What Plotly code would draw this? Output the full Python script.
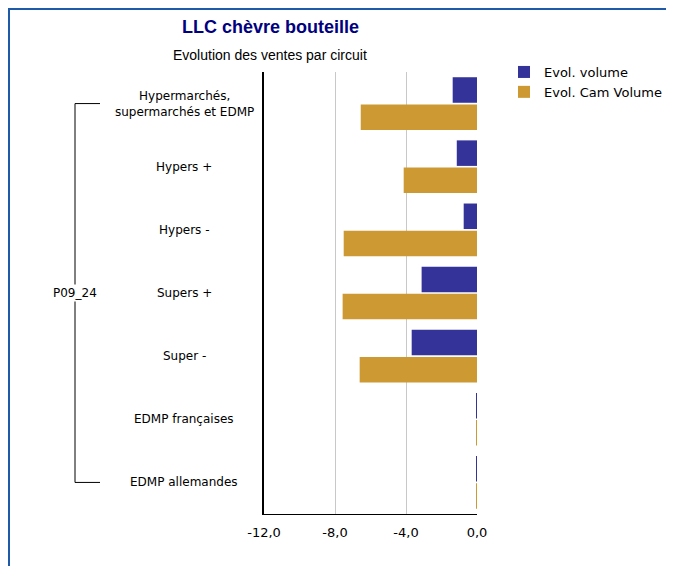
import plotly.graph_objects as go

categories = ["Hypermarchés,<br>supermarchés et EDMP", "Hypers +", "Hypers -", "Supers +",
              "Super -", "EDMP françaises", "EDMP allemandes"]
evol_volume = [-1.37, -1.14, -0.75, -3.12, -3.68, -0.03, -0.03]
evol_cam_volume = [-6.55, -4.13, -7.51, -7.57, -6.61, -0.03, -0.03]
group_label = "P09_24"
x_ticks = [-12, -8, -4, 0]
x_tick_text = [f"{v:.1f}".replace(".", ",") for v in x_ticks]

FONT = "DejaVu Sans"
TFONT = "Liberation Sans"
W, H = 666, 558
L, R, T, B = 256, 197, 64, 52
pw = W - L - R
ph = H - T - B

def px_to_paper(px):
    return (px - L) / pw

fig = go.Figure()
fig.add_trace(go.Bar(y=categories, x=evol_volume, orientation="h", name="Evol. volume",
                     marker=dict(color="#333399", line=dict(width=0))))
fig.add_trace(go.Bar(y=categories, x=evol_cam_volume, orientation="h", name="Evol. Cam Volume",
                     marker=dict(color="#CC9933", line=dict(width=0))))

annotations = [
    dict(text="<b>LLC chèvre bouteille</b>", x=px_to_paper(262), y=1, xref="paper", yref="paper",
         yshift=45, showarrow=False, xanchor="center", yanchor="middle",
         font=dict(family=TFONT, size=18, color="#000080")),
    dict(text="Evolution des ventes par circuit", x=px_to_paper(262), y=1, xref="paper", yref="paper",
         yshift=17, showarrow=False, xanchor="center", yanchor="middle",
         font=dict(family=TFONT, size=14, color="#000000")),
]
for c in categories:
    annotations.append(dict(text=c, x=px_to_paper(176), y=c, xref="paper", yref="y",
                            showarrow=False, xanchor="center", yanchor="middle", align="center",
                            font=dict(family=FONT, size=12, color="#000000")))
annotations.append(dict(text=group_label, x=px_to_paper(67), y=0.5, xref="paper", yref="paper",
                        showarrow=False, xanchor="center", yanchor="middle",
                        bgcolor="white", font=dict(family=FONT, size=12, color="#000000")))

shapes = [
    dict(type="line", xref="paper", yref="y", x0=px_to_paper(67), x1=px_to_paper(67),
         y0=categories[0], y1=categories[-1], line=dict(color="#000000", width=1)),
    dict(type="line", xref="paper", yref="y", x0=px_to_paper(67), x1=px_to_paper(92),
         y0=categories[0], y1=categories[0], line=dict(color="#000000", width=1)),
    dict(type="line", xref="paper", yref="y", x0=px_to_paper(67), x1=px_to_paper(92),
         y0=categories[-1], y1=categories[-1], line=dict(color="#000000", width=1)),
    dict(type="rect", xref="paper", yref="paper", x0=px_to_paper(1), x1=px_to_paper(700),
         y0=-1.0, y1=1 + (T - 1) / ph, line=dict(color="#1E5AA8", width=2),
         layer="below"),
]

fig.update_layout(
    width=W, height=H,
    margin=dict(l=L, r=R, t=T, b=B, autoexpand=False),
    paper_bgcolor="white", plot_bgcolor="white",
    barmode="group", bargap=0.14, bargroupgap=0.06,
    showlegend=True,
    legend=dict(x=px_to_paper(496), y=1 + 15 / ph, xref="paper", yref="paper", xanchor="left", yanchor="top",
                font=dict(family=FONT, size=13, color="#000000"), traceorder="normal",
                itemwidth=30, tracegroupgap=0, bgcolor="rgba(0,0,0,0)"),
    xaxis=dict(range=[-12, 0], tickvals=x_ticks, ticktext=x_tick_text, showgrid=True,
               gridcolor="#C8C8C8", gridwidth=1, zeroline=False, showline=True,
               linecolor="#000000", linewidth=1, ticks="", ticklen=0, ticklabelstandoff=6,
               tickfont=dict(family=FONT, size=13, color="#000000")),
    yaxis=dict(autorange="reversed", showticklabels=False, showgrid=False, zeroline=False,
               showline=True, linecolor="#000000", linewidth=1.5, ticks=""),
    annotations=annotations,
    shapes=shapes,
    font=dict(family=FONT),
)

fig.write_html("out.html")
